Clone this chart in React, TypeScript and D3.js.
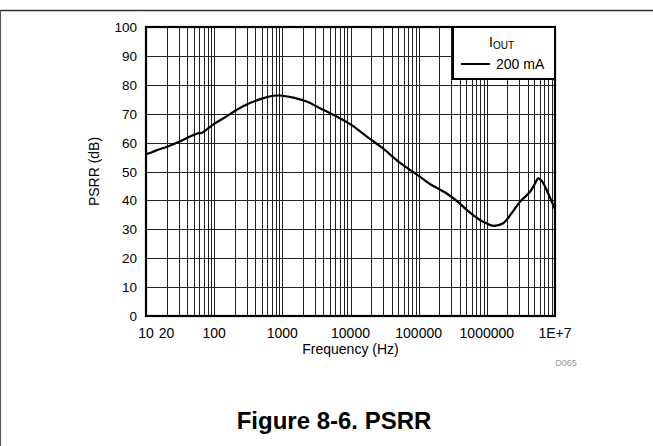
import React from "react";
import * as d3 from "d3";

const freqs = [10, 12, 15, 20, 30, 45, 60, 65, 100, 150, 213, 300, 500, 735, 900, 1000, 1500, 2276, 3500, 6256, 10000, 20000, 30000, 50000, 70000, 100000, 150000, 258000, 400000, 507000, 795000, 1000000, 1245000, 1740000, 2300000, 3060000, 4300000, 5000000, 5690000, 6500000, 7940000, 9000000, 10000000];
const psrr = [56, 56.6, 57.5, 58.5, 60.2, 62.2, 63.3, 63.3, 66.5, 69, 71.3, 73.2, 75.2, 76.2, 76.3, 76.2, 75.5, 74.2, 72, 69, 66.3, 61, 58, 53.5, 51, 48.5, 45.5, 42.4, 39, 36.7, 33.2, 32, 31.2, 32.1, 35.5, 39.5, 43, 45.5, 47.6, 46.5, 42.4, 39.5, 37];

const xTickValues = [10, 20, 100, 1000, 10000, 100000, 1000000, 10000000];
const xTickLabels = ["10", "20", "100", "1000", "10000", "100000", "1000000", "1E+7"];
const yTickValues = [0, 10, 20, 30, 40, 50, 60, 70, 80, 90, 100];

const W = 653, H = 446;
const L = 146, R = 555, T = 27, B = 316;
const FONT = "Liberation Sans, Arial, sans-serif";

export default function App() {
  const x = d3.scaleLog().domain([10, 1e7]).range([L, R]);
  const y = d3.scaleLinear().domain([0, 100]).range([B, T]);

  const vGrid: number[] = [];
  for (let d = 10; d < 1e7; d *= 10) {
    for (let m = 2; m <= 9; m++) vGrid.push(d * m);
  }
  for (let d = 100; d < 1e7; d *= 10) vGrid.push(d);

  const pts = freqs.map((f, i) => [x(f), y(psrr[i])] as [number, number]);
  const line = d3.line().curve(d3.curveCatmullRom.alpha(0.5))(pts) || "";

  return (
    <div style={{ position: "absolute", left: 0, top: 0 }}>
      <svg width={W} height={H} style={{ display: "block", background: "#fff" }}>
        <rect x={0} y={0} width={W} height={H} fill="#fff" />
        <line x1={0} x2={W} y1={10.5} y2={10.5} stroke="#333" strokeWidth={1.5} />
        <line x1={0.5} x2={0.5} y1={10} y2={H} stroke="#555" strokeWidth={1.2} />

        {vGrid.map((v, i) => (
          <line key={"v" + i} x1={Math.round(x(v)) + 0.5} x2={Math.round(x(v)) + 0.5} y1={T} y2={B} stroke="#222" strokeWidth={1} />
        ))}
        {yTickValues.slice(1, -1).map((v) => (
          <line key={"h" + v} x1={L} x2={R} y1={Math.round(y(v)) + 0.5} y2={Math.round(y(v)) + 0.5} stroke="#222" strokeWidth={1} />
        ))}

        <path d={line} fill="none" stroke="#000" strokeWidth={2.2} strokeLinejoin="round" />

        <rect x={L} y={T} width={R - L} height={B - T} fill="none" stroke="#000" strokeWidth={2.2} />

        <rect x={453} y={T} width={R - 453} height={52} fill="#fff" stroke="#000" strokeWidth={2} />
        <text x={489} y={47} fontFamily={FONT} fontSize={14} fill="#000">
          I<tspan fontSize={10} dy={2}>OUT</tspan>
        </text>
        <line x1={461} x2={490} y1={64} y2={64} stroke="#000" strokeWidth={2} />
        <text x={496} y={69} fontFamily={FONT} fontSize={14} fill="#000">200 mA</text>

        {yTickValues.map((v) => (
          <text key={"yl" + v} x={137} y={y(v) + 5} textAnchor="end" fontFamily={FONT} fontSize={13.5} fill="#000">{v}</text>
        ))}
        {xTickValues.map((v, i) => (
          <text key={"xl" + v} x={x(v)} y={338} textAnchor="middle" fontFamily={FONT} fontSize={14} fill="#000">{xTickLabels[i]}</text>
        ))}
        <text x={(L + R) / 2} y={354} textAnchor="middle" fontFamily={FONT} fontSize={14} fill="#000">Frequency (Hz)</text>
        <text transform={`translate(99, ${(T + B) / 2}) rotate(-90)`} textAnchor="middle" fontFamily={FONT} fontSize={14} fill="#000">PSRR (dB)</text>
        <text x={566} y={366} textAnchor="middle" fontFamily={FONT} fontSize={9} fill="#999">D065</text>

        <text x={334} y={429} textAnchor="middle" fontFamily={FONT} fontSize={24} fontWeight="bold" fill="#000">Figure 8-6. PSRR</text>
      </svg>
    </div>
  );
}
